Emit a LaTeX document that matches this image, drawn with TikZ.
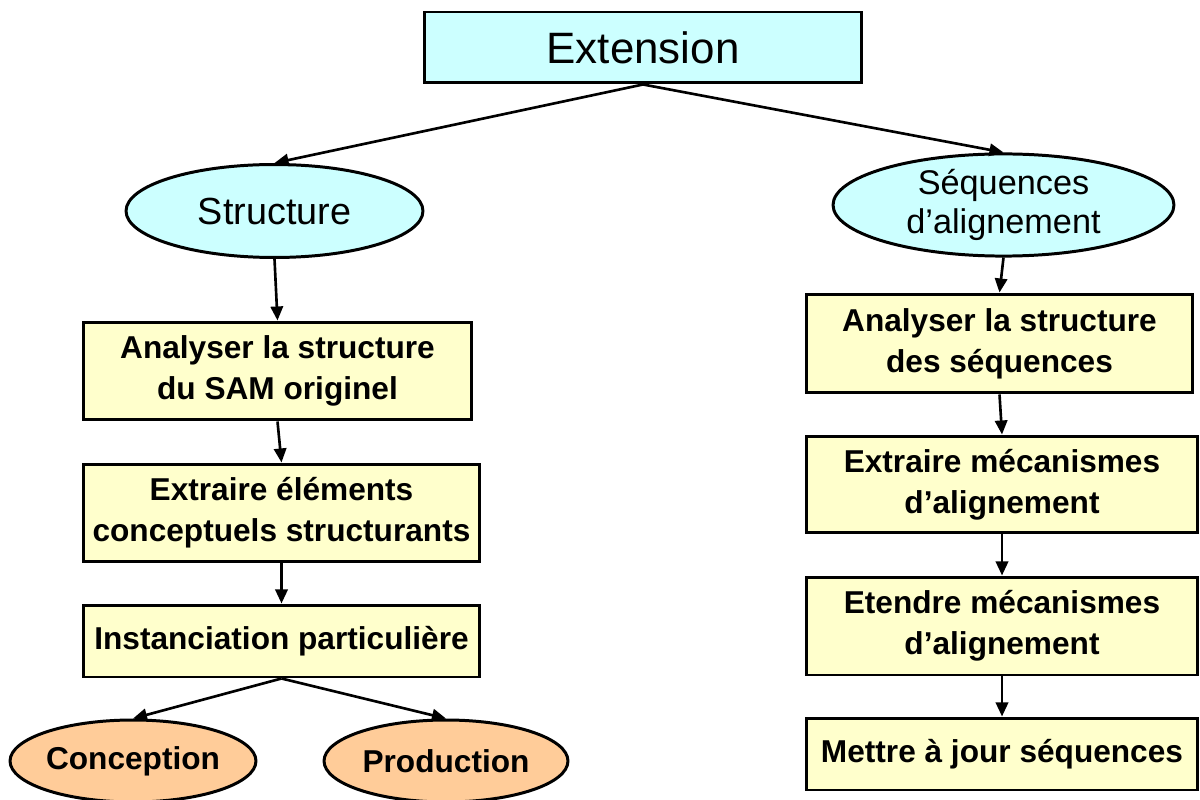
\documentclass[tikz,border=0pt]{standalone}
\usepackage{fontspec}
\setmainfont{Liberation Sans}
\usetikzlibrary{arrows.meta,shapes.geometric}
\definecolor{boxcyan}{HTML}{CCFFFF}
\definecolor{boxyellow}{HTML}{FFFFCC}
\definecolor{boxorange}{HTML}{FFCC99}
\tikzset{
  base/.style={draw=black, line width=1.7pt, inner sep=0pt, align=center, text=black},
  topbox/.style={base, rectangle, fill=boxcyan, font=\fontsize{25}{30}\selectfont},
  bluenode/.style={base, ellipse, fill=boxcyan},
  stepbox/.style={base, rectangle, fill=boxyellow, font=\bfseries\fontsize{18}{23.2}\selectfont},
  outnode/.style={base, ellipse, fill=boxorange, font=\bfseries\fontsize{18}{22.7}\selectfont},
  link/.style={line width=1.5pt, -{Triangle[length=8pt,width=7pt]}}
}
\begin{document}
\begin{tikzpicture}[x=0.02cm, y=-0.02cm]
  \useasboundingbox (0,0) rectangle (1200,800);

  % root
  \node[topbox, minimum width=8.76cm, minimum height=1.42cm] (ext) at (643,47.5) {Extension};

  % two branches
  \node[bluenode, minimum width=5.94cm, minimum height=1.86cm,
        font=\fontsize{21.5}{26}\selectfont] (struct) at (274.5,211) {Structure};
  \node[bluenode, minimum width=6.82cm, minimum height=1.88cm,
        font=\fontsize{19.5}{22.7}\selectfont] (seq) at (1003.5,205) {Séquences\\d’alignement};

  % left column
  \node[stepbox, minimum width=7.78cm, minimum height=1.96cm] (a1) at (277.5,371)
    {Analyser la structure\\du SAM originel};
  \node[stepbox, minimum width=7.94cm, minimum height=1.96cm] (a2) at (281.5,513)
    {Extraire éléments\\conceptuels structurants};
  \node[stepbox, minimum width=7.94cm, minimum height=1.44cm] (a3) at (281.5,641)
    {Instanciation particulière};
  \node[outnode, minimum width=4.9cm, minimum height=1.64cm] (conc) at (133,761) {Conception};
  \node[outnode, minimum width=4.88cm, minimum height=1.64cm] (prod) at (446,761) {Production};

  % right column
  \node[stepbox, minimum width=7.74cm, minimum height=1.98cm] (b1) at (999.5,343.5)
    {Analyser la structure\\des séquences};
  \node[stepbox, minimum width=7.84cm, minimum height=1.94cm] (b2) at (1002,484.5)
    {Extraire mécanismes\\d’alignement};
  \node[stepbox, minimum width=7.84cm, minimum height=1.96cm] (b3) at (1002,626)
    {Etendre mécanismes\\d’alignement};
  \node[stepbox, minimum width=7.84cm, minimum height=1.44cm] (b4) at (1002,754)
    {Mettre à jour séquences};

  % connectors
  \draw[link] (ext.south) -- (struct.north);
  \draw[link] (ext.south) -- (seq.north);
  \draw[link] (struct.south) -- (a1.north);
  \draw[link] (a1.south) -- (a2.north);
  \draw[link] (a2.south) -- (a3.north);
  \draw[link] (a3.south) -- (conc.north);
  \draw[link] (a3.south) -- (prod.north);
  \draw[link] (seq.south) -- (b1.north);
  \draw[link] (b1.south) -- (b2.north);
  \draw[link] (b2.south) -- (b3.north);
  \draw[link] (b3.south) -- (b4.north);
\end{tikzpicture}
\end{document}
